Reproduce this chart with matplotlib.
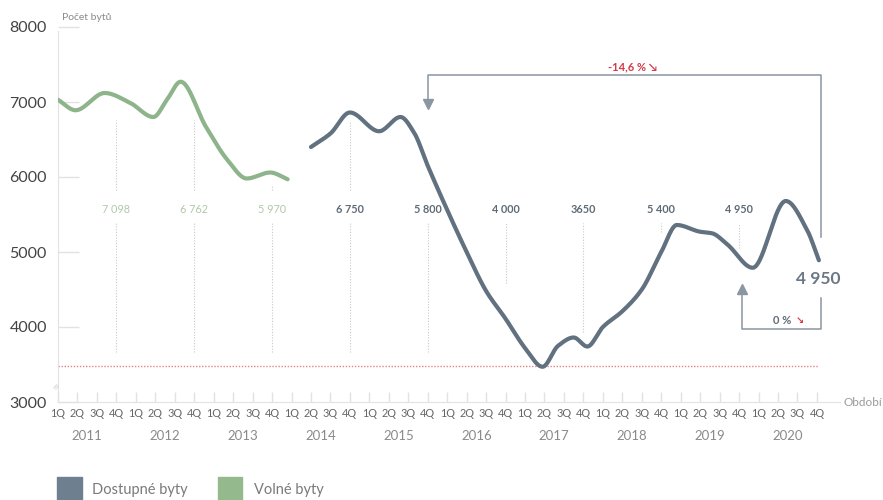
import numpy as np
import matplotlib
matplotlib.use("Agg")
import matplotlib.pyplot as plt
from matplotlib.patches import Rectangle

plt.rcParams['font.family'] = ['Lato', 'DejaVu Sans']

# ---------------- data ----------------
quarters = ["1Q", "2Q", "3Q", "4Q"]
years = ["2011", "2012", "2013", "2014", "2015", "2016", "2017", "2018", "2019", "2020"]

# Volné byty (quarter index position from 2011 1Q = 0, value)
green_x = [0.0, 0.9, 2.4, 3.7, 4.9, 5.6, 6.3, 7.6, 8.7, 9.7, 10.9, 11.8]
green_y = [7030, 6890, 7120, 6990, 6800, 7030, 7270, 6670, 6230, 5980, 6060, 5970]

# Dostupné byty
gray_x = [13.0, 14.0, 15.0, 16.5, 17.6, 18.3, 19.0, 20.0, 21.0, 22.0, 23.0, 24.0,
          24.9, 25.7, 26.5, 27.2, 28.0, 29.0, 30.0, 31.0, 31.8, 33.0, 33.6, 34.4,
          35.7, 37.4, 38.5, 39.1]
gray_y = [6400, 6580, 6860, 6610, 6800, 6590, 6150, 5560, 5000, 4480, 4110, 3720,
          3470, 3750, 3860, 3740, 4000, 4210, 4500, 5000, 5360, 5270, 5250, 5100,
          4790, 5680, 5290, 4890]

# point labels
label_pos = [3, 7, 11, 15, 19, 23, 27, 31, 35]
label_txt = ["7 098", "6 762", "5 970", "6 750", "5 800", "4 000", "3650", "5 400", "4 950"]
label_is_green = [True, True, True, False, False, False, False, False, False]
# dotted guide segments (value ranges)
guide_upper = [(5827, 6760), (5827, 6760), (5827, 5893), (5827, 6733), None, None, None, None, None]
guide_lower = [(3667, 5387), (3667, 5387), (3667, 5387), (3667, 5387), (3667, 5387),
               (4587, 5387), (3933, 5387), (5267, 5387), (5053, 5387)]

min_level = 3480
final_value = "4 950"
change_long = "-14,6 %"
change_short = "0 %"

yticks = [3000, 4000, 5000, 6000, 7000, 8000]

# ---------------- styling ----------------
C_GRAY = "#617180"
C_GREEN = "#8db48a"
C_GRAY_LEG = "#6e8090"
C_GREEN_LEG = "#93b98c"
C_AXIS = "#e2e2e2"
C_ANN = "#8a96a2"
C_RED = "#d23a46"


def pchip(x, y, xs):
    x = np.asarray(x, float); y = np.asarray(y, float)
    h = np.diff(x); d = np.diff(y) / h
    n = len(x)
    m = np.zeros(n)
    for k in range(1, n - 1):
        if d[k - 1] * d[k] <= 0:
            m[k] = 0
        else:
            w1 = 2 * h[k] + h[k - 1]; w2 = h[k] + 2 * h[k - 1]
            m[k] = (w1 + w2) / (w1 / d[k - 1] + w2 / d[k])
    m[0] = d[0]; m[-1] = d[-1]
    out = np.empty_like(xs)
    idx = np.clip(np.searchsorted(x, xs) - 1, 0, n - 2)
    for j, xv in enumerate(xs):
        k = idx[j]
        t = (xv - x[k]) / h[k]
        h00 = 2 * t**3 - 3 * t**2 + 1; h10 = t**3 - 2 * t**2 + t
        h01 = -2 * t**3 + 3 * t**2; h11 = t**3 - t**2
        out[j] = h00 * y[k] + h10 * h[k] * m[k] + h01 * y[k + 1] + h11 * h[k] * m[k + 1]
    return out


W, H = 883, 500
fig = plt.figure(figsize=(W / 100, H / 100), dpi=100)
px_l, px_r, px_t, px_b = 58, 840, 27, 402
ax = fig.add_axes([px_l / W, 1 - px_b / H, (px_r - px_l) / W, (px_b - px_t) / H])
step = 19.46
ax.set_xlim(0, (px_r - px_l) / step)
ax.set_ylim(3000, 8000)

for s in ["top", "right"]:
    ax.spines[s].set_visible(False)
ax.spines["left"].set_color(C_AXIS)
ax.spines["bottom"].set_color(C_AXIS)
ax.spines["left"].set_bounds(3000, 7950)

ax.set_yticks(yticks)
ax.set_yticklabels([str(v) for v in yticks])
ax.tick_params(axis="y", direction="in", length=15, width=1, color=C_AXIS,
               pad=8, labelsize=11.5, labelcolor="#444444")

qpos = np.arange(len(years) * 4)
ax.set_xticks(qpos)
ax.set_xticklabels(quarters * len(years))
ax.tick_params(axis="x", direction="in", length=7, width=1, color=C_AXIS,
               pad=4, labelsize=7.8, labelcolor="#666666")

for k, yr in enumerate(years):
    ax.annotate(yr, xy=(4 * k + 1.5, 3000), xytext=(0, -34), textcoords="offset pixels",
                ha="center", va="center", fontsize=9.5, color="#8a8a8a", annotation_clip=False)

# guide lines and labels
for k, p in enumerate(label_pos):
    if guide_upper[k]:
        ax.plot([p, p], guide_upper[k], color="#c8c8c8", lw=0.8, ls=(0, (1, 1.5)), zorder=1)
    ax.plot([p, p], guide_lower[k], color="#c8c8c8", lw=0.8, ls=(0, (1, 1.5)), zorder=1)
    if label_is_green[k]:
        ax.text(p, 5573, label_txt[k], ha="center", va="center", fontsize=7.8,
                color="#b0c9aa", zorder=3)
    else:
        ax.text(p, 5573, label_txt[k], ha="center", va="center", fontsize=7.8,
                color="#5e6b77", fontweight="bold", zorder=3)

# minimum line
ax.plot([0, 39.05], [min_level, min_level], color="#e08585", lw=1.0, ls=(0, (1, 1.2)), zorder=1)

# curves
xs = np.linspace(green_x[0], green_x[-1], 400)
ax.plot(xs, pchip(green_x, green_y, xs), color=C_GREEN, lw=3.0, solid_capstyle="round", zorder=4)
xs = np.linspace(gray_x[0], gray_x[-1], 800)
ax.plot(xs, pchip(gray_x, gray_y, xs), color=C_GRAY, lw=3.0, solid_capstyle="round", zorder=4)


def P(px, py):
    return ((px - px_l) / step, 8000 - (py - px_t) / 0.075)


# top bracket
a = P(428, 75); b = P(821, 75); c = P(821, 237); tip = P(428, 110)
ax.plot([tip[0], a[0], b[0], c[0]], [P(428, 100)[1], a[1], b[1], c[1]], color=C_ANN, lw=1.1,
        clip_on=False, zorder=2)
ax.plot([tip[0]], [P(428, 104)[1]], marker="v", ms=7, color=C_ANN, mec=C_ANN, zorder=3)
lx, ly = P(633, 67)
ax.text(lx, ly, change_long + " \u2198", ha="center", va="center", fontsize=8,
        color=C_RED, fontweight="bold", family=["Lato", "DejaVu Sans"])

# big final value
fx, fy = P(818, 279)
ax.text(fx, fy, final_value, ha="center", va="center", fontsize=12.5, color="#6b7885",
        fontweight="bold", clip_on=False)

# bottom bracket
p1 = P(742, 293); p2 = P(742, 329); p3 = P(821, 329); p4 = P(821, 298)
ax.plot([p1[0], p2[0], p3[0], p4[0]], [p1[1], p2[1], p3[1], p4[1]], color=C_ANN, lw=1.1, zorder=2)
tp = P(742, 289)
ax.plot([tp[0]], [tp[1]], marker="^", ms=7, color=C_ANN, mec=C_ANN, zorder=3)
zx, zy = P(782, 320)
ax.text(zx, zy, change_short, ha="center", va="center", fontsize=8, color="#5e6b77",
        fontweight="bold")
rx, ry = P(800, 321)
ax.text(rx, ry, "\u2198", ha="center", va="center", fontsize=7, color=C_RED,
        fontweight="bold", family=["DejaVu Sans"])

# axis break mark
bx, by = P(57, 386)
ax.text(bx, by, "\u2248", ha="center", va="center", fontsize=10, color="#d0d0d0",
        rotation=60, clip_on=False)

# axis titles
fig.text(62 / W, 1 - 17 / H, "Počet bytů", ha="left", va="center", fontsize=7.5, color="#8a8a8a")
fig.text(843 / W, 1 - 403 / H, "Období", ha="left", va="center", fontsize=8.5, color="#9a9a9a")

# legend
fig.patches.append(Rectangle((57 / W, 0), 25 / W, 23 / H, transform=fig.transFigure,
                             color=C_GRAY_LEG, figure=fig))
fig.text(92 / W, 1 - 490 / H, "Dostupné byty", ha="left", va="center", fontsize=10.5, color="#7a7a7a")
fig.patches.append(Rectangle((218 / W, 0), 24 / W, 23 / H, transform=fig.transFigure,
                             color=C_GREEN_LEG, figure=fig))
fig.text(254 / W, 1 - 490 / H, "Volné byty", ha="left", va="center", fontsize=10.5, color="#7a7a7a")

fig.savefig("out.png", dpi=100)
